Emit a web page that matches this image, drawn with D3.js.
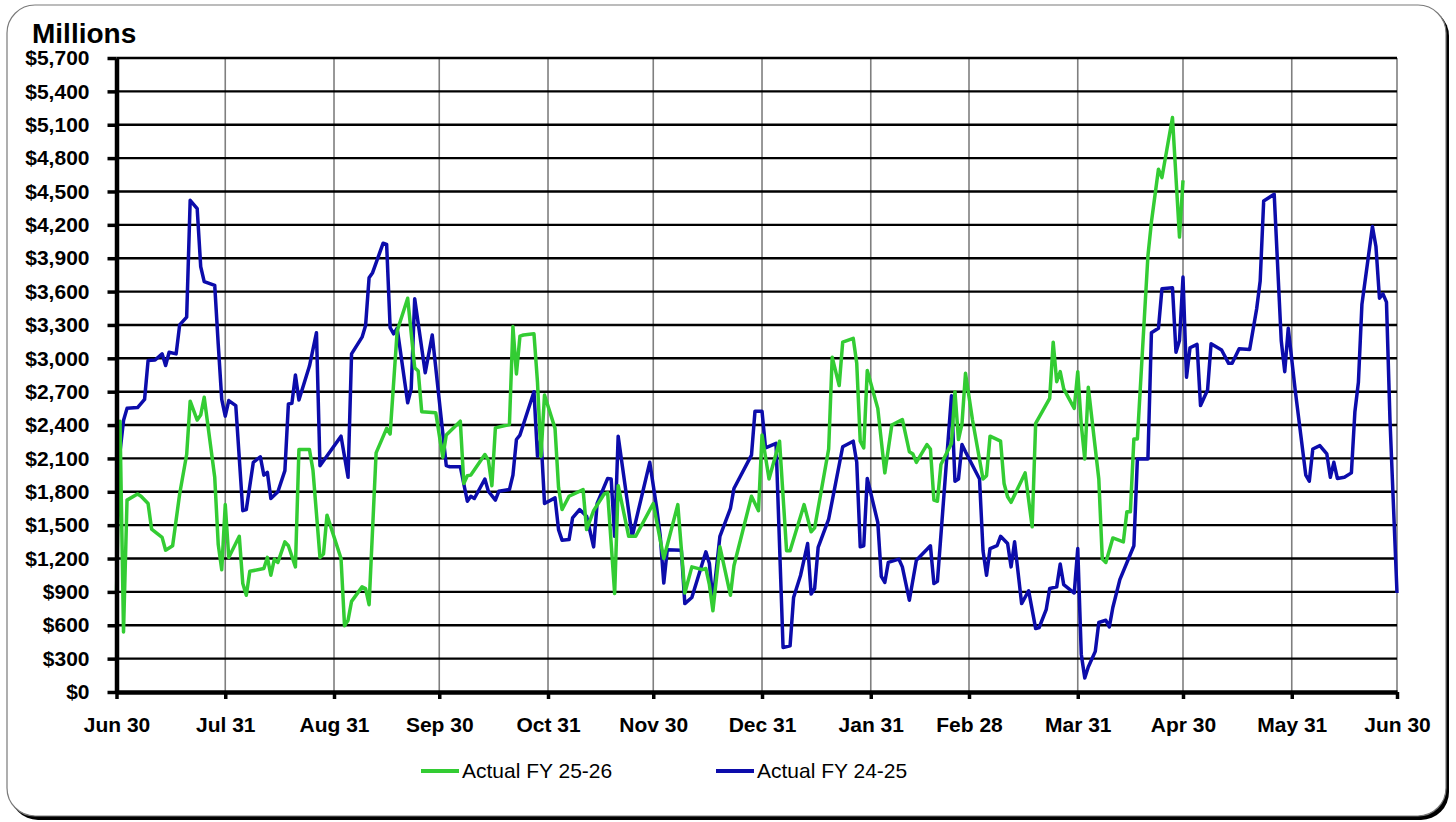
<!DOCTYPE html>
<html>
<head>
<meta charset="utf-8">
<script src="https://cdn.jsdelivr.net/npm/d3@7"></script>
<style>
  html, body { margin: 0; padding: 0; background: #ffffff; }
  svg { display: block; }
  text { font-family: "Liberation Sans", Arial, sans-serif; }
</style>
</head>
<body>
<svg id="chart" width="1456" height="822"></svg>
<script>
// Daily cash balance, day offsets counted from Jun 30 (fiscal year start)
const fy2526Days = [0,1,2,3,6,7,9,10,13,14,16,18,20,21,23,24,25,28,29,30,31,32,35,36,37,38,42,43,44,45,46,48,49,51,52,55,56,58,59,60,64,65,66,67,70,71,72,74,77,78,80,83,85,86,87,91,93,94,98,99,100,101,105,106,107,108,112,113,114,115,116,119,120,121,122,125,126,127,129,133,134,136,139,140,142,143,146,148,153,155,156,160,162,164,167,168,169,170,172,175,176,181,183,184,186,189,191,192,196,198,199,203,204,206,207,210,211,212,213,214,217,219,221,224,226,227,228,231,232,233,234,235,238,239,240,241,242,244,247,248,249,252,253,254,255,259,261,262,266,267,268,269,270,273,274,275,276,277,280,281,282,284,287,288,289,290,291,294,295,297,298,301,303,304];
const fy2526Values = [890,2435,540,1725,1780,1760,1695,1465,1390,1275,1315,1780,2135,2615,2445,2490,2650,1930,1325,1100,1685,1210,1400,975,870,1085,1110,1210,1050,1195,1165,1350,1315,1125,2180,2180,1995,1210,1240,1590,1200,595,645,815,945,930,785,2150,2370,2320,3245,3540,2915,2885,2520,2510,2110,2310,2435,1875,1945,1950,2135,2085,1855,2375,2405,3285,2860,3200,3210,3220,2785,2120,2670,2370,1840,1640,1760,1820,1460,1630,1780,1790,885,1855,1400,1400,1695,1365,1200,1685,890,1125,1100,1110,965,730,1305,870,1135,1760,1630,2310,1915,2255,1270,1270,1685,1440,1475,2185,3010,2755,3145,3180,2955,2255,2195,2890,2550,1970,2400,2450,2160,2140,2065,2225,2185,1725,1715,2045,2235,2700,2270,2410,2865,2445,1915,1945,2300,2255,1875,1755,1705,1970,1485,2415,2640,3145,2790,2880,2725,2550,2880,2405,2095,2740,1915,1195,1165,1385,1350,1620,1620,2275,2275,3920,4225,4700,4625,5165,4090,4600];

const fy2425Days = [0,1,2,3,6,8,9,11,13,14,15,17,18,20,21,23,24,25,28,29,30,31,32,34,36,37,39,41,42,43,44,46,48,49,50,51,52,55,57,58,64,66,67,70,71,72,73,76,77,78,79,80,83,84,85,88,90,94,95,98,100,101,102,105,106,108,109,112,113,114,115,119,120,121,122,125,126,127,129,130,132,134,136,137,140,141,142,143,147,152,154,155,156,157,161,162,164,168,169,170,172,175,176,181,182,184,185,188,190,192,193,195,197,198,199,200,203,207,210,211,212,213,214,217,218,219,220,223,224,226,228,232,233,234,238,239,240,241,242,246,247,248,249,251,252,254,255,256,258,260,262,263,265,266,268,269,270,273,274,275,276,277,279,280,282,283,284,286,290,291,294,295,297,298,301,302,303,304,305,306,308,309,311,312,315,317,318,320,323,325,326,327,330,332,333,334,336,339,340,341,343,345,346,347,348,350,352,353,354,355,358,359,360,361,362,363,365];
const fy2425Values = [2100,2160,2440,2550,2557,2630,2980,2985,3040,2935,3055,3040,3300,3370,4420,4345,3825,3690,3655,3125,2630,2480,2620,2575,1630,1640,2065,2115,1950,1975,1740,1800,1990,2590,2595,2850,2625,2930,3230,2035,2300,1930,3040,3190,3295,3725,3770,4035,4025,3275,3220,3270,2600,2725,3535,2870,3210,2035,2025,2025,1715,1760,1740,1915,1805,1725,1805,1820,1950,2270,2310,2700,2120,2285,1695,1745,1460,1365,1370,1565,1640,1580,1305,1695,1920,1915,1400,2300,1400,2065,1650,1400,980,1280,1275,795,850,1260,1155,815,1400,1650,1830,2130,2525,2525,2195,2235,400,415,850,1050,1335,880,930,1300,1555,2205,2255,2065,1305,1315,1920,1525,1040,985,1165,1195,1125,825,1185,1315,975,995,2663,1895,1915,2225,2160,1915,1270,1050,1290,1315,1400,1335,1125,1350,795,910,570,580,740,930,945,1150,965,890,1290,340,125,225,365,625,645,585,760,1010,1315,2095,2095,3230,3270,3625,3635,3055,3160,3730,2830,3095,3125,2575,2715,3130,3075,2955,2955,3085,3080,3445,3695,4415,4475,3160,2880,3270,2710,1950,1895,2185,2215,2140,1930,2065,1920,1930,1970,2520,2785,3485,4185,4005,3540,3580,3505,2445,890];

// Axis ticks
const yTickValues = [0,300,600,900,1200,1500,1800,2100,2400,2700,3000,3300,3600,3900,4200,4500,4800,5100,5400,5700];
const yTickLabels = ["$0","$300","$600","$900","$1,200","$1,500","$1,800","$2,100","$2,400","$2,700","$3,000","$3,300","$3,600","$3,900","$4,200","$4,500","$4,800","$5,100","$5,400","$5,700"];
const xTickDays = [0,31,62,92,123,153,184,215,243,274,304,335,365];
const xTickLabels = ["Jun 30","Jul 31","Aug 31","Sep 30","Oct 31","Nov 30","Dec 31","Jan 31","Feb 28","Mar 31","Apr 30","May 31","Jun 30"];

const seriesNames = ["Actual FY 25-26", "Actual FY 24-25"];
const seriesColors = ["#33cc33", "#0c0cab"];

const svg = d3.select("#chart");

// Card frame with drop shadow
svg.append("rect").attr("x", 10).attr("y", 8).attr("width", 1439).attr("height", 812)
  .attr("rx", 28).attr("fill", "#000");
svg.append("rect").attr("x", 7).attr("y", 5).attr("width", 1439).attr("height", 811)
  .attr("rx", 28).attr("fill", "#fff").attr("stroke", "#7a7a7a").attr("stroke-width", 1.2);

const plotLeft = 116.5, plotRight = 1397, plotTop = 58, plotBottom = 692;
const x = d3.scaleLinear().domain([0, 365]).range([plotLeft, plotRight]);
const y = d3.scaleLinear().domain([0, 5700]).range([plotBottom, plotTop]);

// Vertical month gridlines
svg.append("g").selectAll("line").data(xTickDays.slice(1)).join("line")
  .attr("x1", d => x(d)).attr("x2", d => x(d))
  .attr("y1", plotTop).attr("y2", plotBottom)
  .attr("stroke", "#7f7f7f").attr("stroke-width", 1.6);

// Horizontal value gridlines
svg.append("g").selectAll("line").data(yTickValues.slice(1)).join("line")
  .attr("x1", plotLeft).attr("x2", plotRight)
  .attr("y1", d => y(d)).attr("y2", d => y(d))
  .attr("stroke", "#000").attr("stroke-width", 2.4);

// Series lines
const line = d3.line().x(d => x(d[0])).y(d => y(d[1]));
const seriesData = [
  d3.zip(fy2526Days, fy2526Values),
  d3.zip(fy2425Days, fy2425Values)
];
[1, 0].forEach(i => {
  svg.append("path").datum(seriesData[i])
    .attr("d", line)
    .attr("fill", "none")
    .attr("stroke", seriesColors[i])
    .attr("stroke-width", 3.5)
    .attr("stroke-linejoin", "round");
});

// Y axis
const yAxis = svg.append("g").attr("transform", `translate(${plotLeft},0)`)
  .call(d3.axisLeft(y).tickValues(yTickValues)
    .tickFormat((d, i) => yTickLabels[i]).tickSize(9).tickSizeOuter(0).tickPadding(18));
yAxis.select(".domain").attr("stroke", "#000").attr("stroke-width", 4.5);
yAxis.selectAll(".tick line").attr("stroke", "#000").attr("stroke-width", 3.5);
yAxis.selectAll(".tick text")
  .attr("font-family", "'Liberation Sans', Arial, sans-serif")
  .attr("font-size", 21).attr("font-weight", "bold").attr("fill", "#000");

// X axis
const xAxis = svg.append("g").attr("transform", `translate(0,${plotBottom})`)
  .call(d3.axisBottom(x).tickValues(xTickDays)
    .tickFormat((d, i) => xTickLabels[i]).tickSize(7).tickSizeOuter(0).tickPadding(18));
xAxis.select(".domain").attr("stroke", "#000").attr("stroke-width", 4.5);
xAxis.selectAll(".tick line").attr("stroke", "#000").attr("stroke-width", 3.5);
xAxis.selectAll(".tick text")
  .attr("font-family", "'Liberation Sans', Arial, sans-serif")
  .attr("font-size", 21).attr("font-weight", "bold").attr("fill", "#000");

// Unit label
svg.append("text").attr("x", 32).attr("y", 43)
  .attr("font-size", 28).attr("font-weight", "bold").attr("fill", "#000")
  .text("Millions");

// Legend
const legendItems = [{x: 421}, {x: 716}];
legendItems.forEach((it, i) => {
  svg.append("line").attr("x1", it.x).attr("x2", it.x + 38)
    .attr("y1", 771).attr("y2", 771)
    .attr("stroke", seriesColors[i]).attr("stroke-width", 4);
  svg.append("text").attr("x", it.x + 41).attr("y", 778)
    .attr("font-size", 21).attr("fill", "#000")
    .text(seriesNames[i]);
});
</script>
</body>
</html>
